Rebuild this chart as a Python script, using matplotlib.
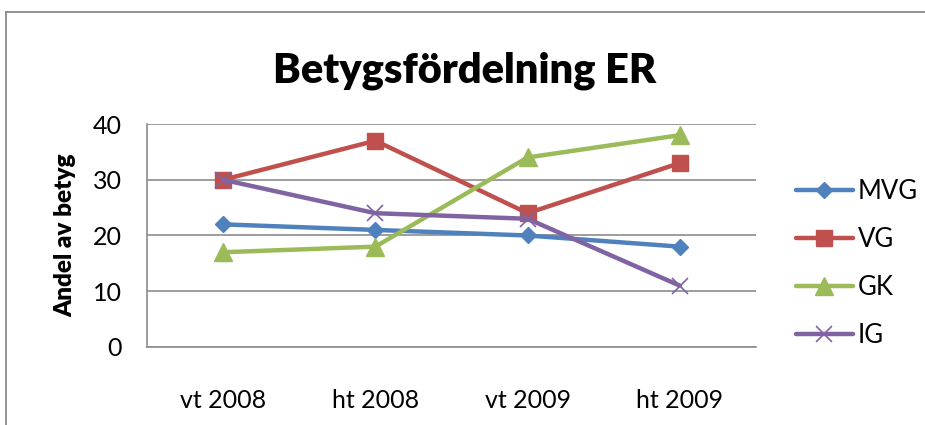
import matplotlib
matplotlib.use("Agg")
import matplotlib.pyplot as plt
from matplotlib.lines import Line2D

plt.rcParams['font.family'] = ['Lato', 'DejaVu Sans']

categories = ["vt 2008", "ht 2008", "vt 2009", "ht 2009"]
mvg = [22, 21, 20, 18]
vg = [30, 37, 24, 33]
gk = [17, 18, 34, 38]
ig = [30, 24, 23, 11]
series_names = ["MVG", "VG", "GK", "IG"]
yticks = [0, 10, 20, 30, 40]

W, H = 925, 425
fig = plt.figure(figsize=(W / 100, H / 100), dpi=100)

# chart border (partially visible, as in the screenshot)
fig.add_artist(Line2D([6 / W, 6 / W], [-0.1, 1 - 12 / H], transform=fig.transFigure,
                      color="#8a8a8a", lw=1.3))
fig.add_artist(Line2D([6 / W, 1.1], [1 - 12 / H, 1 - 12 / H], transform=fig.transFigure,
                      color="#8a8a8a", lw=1.3))

left, right = 147 / W, 756 / W
bottom, top = 1 - 347 / H, 1 - 124 / H
ax = fig.add_axes([left, bottom, right - left, top - bottom])

x = list(range(len(categories)))
styles = [
    (mvg, "#4F81BD", "D", 8.2),
    (vg, "#C0504D", "s", 12),
    (gk, "#9BBB59", "^", 12.5),
    (ig, "#8064A2", "x", 11),
]
for (vals, col, mk, ms), name in zip(styles, series_names):
    if mk == "x":
        ax.plot(x, vals, color=col, lw=3.2, marker=mk, ms=ms, mew=1.2,
                mec=col, label=name, solid_capstyle="round")
    else:
        ax.plot(x, vals, color=col, lw=3.2, marker=mk, ms=ms, mfc=col, mec=col,
                label=name, solid_capstyle="round")

ax.set_xlim(-0.5, len(categories) - 0.5)
ax.set_ylim(0, 40)
ax.set_yticks(yticks)
ax.set_xticks(x)
ax.set_xticklabels(categories)
ax.yaxis.grid(True, color="#8c8c8c", lw=1.2)
ax.set_axisbelow(True)
for s in ["top", "right"]:
    ax.spines[s].set_visible(False)
for s in ["left", "bottom"]:
    ax.spines[s].set_color("#8c8c8c")
    ax.spines[s].set_linewidth(1.2)
ax.tick_params(axis="both", length=0, labelsize=18, colors="black")
ax.tick_params(axis="y", pad=18)
ax.tick_params(axis="x", pad=30)

ax.set_ylabel("Andel av betyg", fontsize=17.5, fontweight="heavy", labelpad=12)
fig.text(465 / W, 1 - 83 / H, "Betygsfördelning ER", fontsize=30, fontweight="heavy",
         ha="center", va="baseline")

leg = ax.legend(loc="upper left", bbox_to_anchor=(796 / W, 1 - 179 / H),
                bbox_transform=fig.transFigure, frameon=False, fontsize=18.5,
                handlelength=2.2, handletextpad=0.2, labelspacing=0.9,
                borderpad=0, borderaxespad=0)

fig.savefig("out.png", dpi=100)
